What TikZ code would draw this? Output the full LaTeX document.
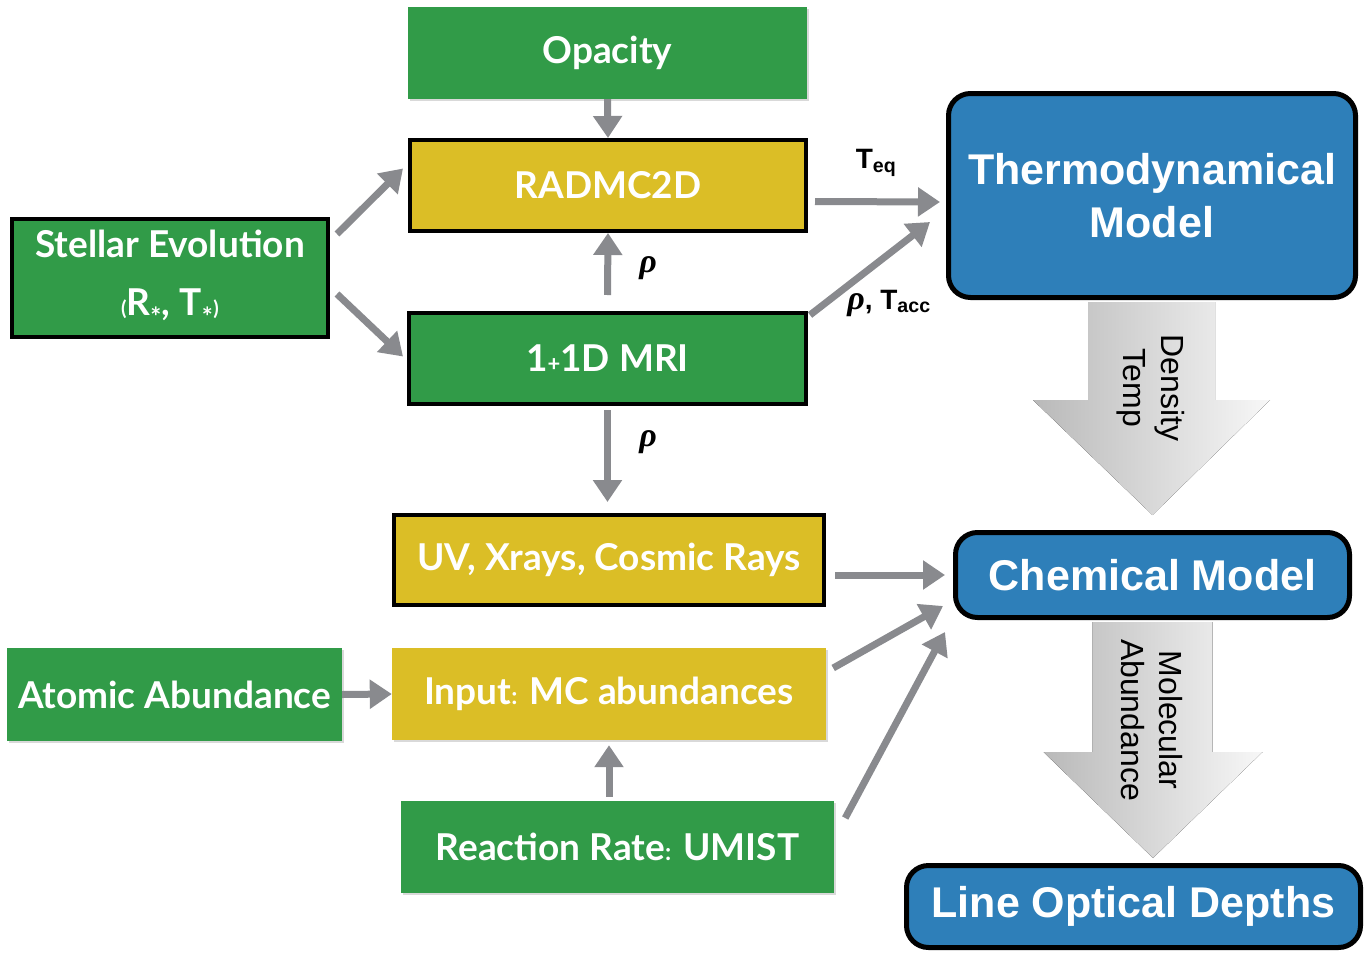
\documentclass[tikz,border=0pt]{standalone}
\usepackage{fontspec}
\setmainfont{Lato}
\newfontfamily\helv{Liberation Sans}
\newfontfamily\grk{Liberation Serif}
\usetikzlibrary{arrows.meta,shadows,calc}

\definecolor{boxgreen}{RGB}{49,155,72}
\definecolor{boxyellow}{RGB}{219,190,38}
\definecolor{boxblue}{RGB}{46,127,185}
\definecolor{arrgray}{RGB}{137,138,142}

\newcommand{\rhosym}{{\grk\fontsize{34}{34}\selectfont\bfseries\itshape ρ}}

\begin{document}
\begin{tikzpicture}[x=1pt, y=-1pt,
	box/.style={rectangle, inner sep=0pt, text=white, font=\fontsize{37}{58}\selectfont\bfseries,
		drop shadow={opacity=0.3, shadow xshift=2pt, shadow yshift=-2pt}},
	gbox/.style={box, fill=boxgreen},
	ybox/.style={box, fill=boxyellow},
	edged/.style={draw=black, line width=4pt},
	mbox/.style={rectangle, rounded corners=22pt, draw=black, line width=5pt, fill=boxblue,
		text=white, font=\helv\fontsize{43}{53}\selectfont\bfseries, align=center, inner sep=0pt,
		drop shadow={opacity=0.3, shadow xshift=2pt, shadow yshift=-2pt}},
	conn/.style={draw=arrgray, line width=7pt, -{Triangle[length=22pt,width=28pt]}},
	lbl/.style={font=\helv\fontsize{28}{30}\selectfont\bfseries, text=black},
	bigarr/.style={left color=gray!55, right color=gray!6, draw=none},
	arrtxt/.style={rotate=-90, font=\helv\fontsize{32}{38}\selectfont, align=center, text=black}]

	\useasboundingbox (0,0) rectangle (1371,953);

	% left column
	\node[gbox, minimum width=399pt, minimum height=92pt] (opac) at (607.5,53) {Opacity};
	\node[ybox, edged, minimum width=396pt, minimum height=91pt] (radmc) at (608,185.5) {RADMC2D};
	\node[gbox, edged, minimum width=316pt, minimum height=118pt, align=center] (stellar) at (170,278)
		{Stellar Evolution\\{\fontsize{20}{20}\selectfont(}R\textsubscript{*}, T\textsubscript{*}{\fontsize{20}{20}\selectfont)}};
	\node[gbox, edged, minimum width=397pt, minimum height=91pt] (mri) at (607.5,358.5) {1{\fontsize{22}{22}\selectfont+}1D MRI};
	\node[ybox, edged, minimum width=430pt, minimum height=90pt] (uvx) at (609,560) {UV, Xrays, Cosmic Rays};
	\node[gbox, minimum width=335pt, minimum height=93pt] (atomic) at (174.5,694.5) {Atomic Abundance};
	\node[ybox, minimum width=434pt, minimum height=92pt] (input) at (609,694) {Input{\fontsize{24}{24}\selectfont:} MC abundances};
	\node[gbox, minimum width=433pt, minimum height=92pt] (react) at (617.5,847) {Reaction Rate{\fontsize{24}{24}\selectfont:} UMIST};

	% models
	\node[mbox, minimum width=407pt, minimum height=204pt] (thermo) at (1152,195.5) {Thermodynamical\\Model};
	\node[mbox, minimum width=394pt, minimum height=85pt] (chem) at (1152.5,575) {Chemical Model};
	\node[mbox, minimum width=454pt, minimum height=82pt] (lineod) at (1133.5,906.5) {Line Optical Depths};

	% big arrows
	\fill[bigarr] ($(thermo.south)+(-64,2)$) -- ($(thermo.south)+(63,2)$) -- ($(thermo.south)+(63,100)$)
		-- ($(thermo.south)+(118,100)$) -- ($(chem.north)+(0,-15)$) -- ($(thermo.south)+(-119,100)$)
		-- ($(thermo.south)+(-64,100)$) -- cycle;
	\fill[bigarr] ($(chem.south)+(-60,2)$) -- ($(chem.south)+(60,2)$) -- ($(chem.south)+(60,132)$)
		-- ($(chem.south)+(110,132)$) -- ($(lineod.north)+(19.5,-5)$) -- ($(chem.south)+(-109,132)$)
		-- ($(chem.south)+(-60,132)$) -- cycle;
	\node[arrtxt] (dtemp) at (1151,388) {Density\\Temp};
	\node[arrtxt] (molab) at (1152,720) {Molecular\\Abundance};

	% connectors
	\draw[conn] (opac.south) -- (radmc.north);
	\draw[conn] ([xshift=7pt,yshift=44pt]stellar.east) -- ([xshift=-5pt,yshift=17pt]radmc.west);
	\draw[conn] ([xshift=7pt,yshift=-16pt]stellar.east) -- ([xshift=-4pt,yshift=2pt]mri.west);
	\draw[conn] ([yshift=16pt]mri.north) -- (radmc.south);
	\draw[conn] ([yshift=-4pt]mri.south) -- ([yshift=11pt]mri.south |- uvx.north);
	\draw[conn] ([xshift=7pt,yshift=-16pt]radmc.east) -- ([xshift=-6pt,yshift=-6.5pt]thermo.west);
	\draw[conn] ([xshift=2pt,yshift=-4pt]mri.north east) -- ([xshift=-16pt,yshift=-26.5pt]thermo.west);
	\draw[conn] ([xshift=9pt,yshift=-15pt]uvx.east) -- ([xshift=-8pt]chem.west);
	\draw[conn] ([xshift=7pt,yshift=26pt]input.east) -- ([xshift=-10pt,yshift=-31pt]chem.west);
	\draw[conn] ([xshift=11pt,yshift=29pt]react.east) -- ([xshift=-8pt,yshift=-12pt]chem.south west);
	\draw[conn] (atomic.east) -- (input.west);
	\draw[conn] ([yshift=4pt]input.south |- react.north) -- ([yshift=-5pt]input.south);

	% labels
	\node[lbl] (rhoa) at (648,268) {\rhosym};
	\node[lbl] (rhob) at (648,442) {\rhosym};
	\node[lbl] (teq) at (876,163) {T\textsubscript{eq}};
	\node[lbl] (tacc) at (889,303) {\rhosym,\ T\textsubscript{acc}};
\end{tikzpicture}
\end{document}
